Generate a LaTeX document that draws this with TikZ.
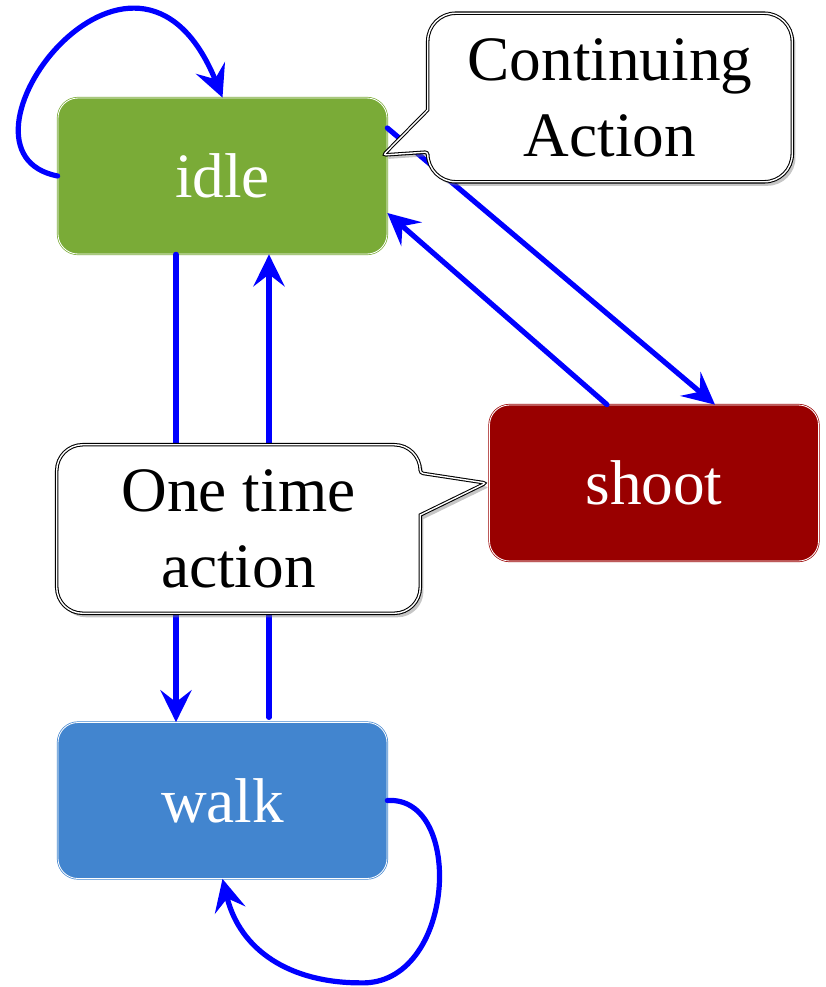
\documentclass[tikz,border=0pt]{standalone}
\usepackage{fontspec}
\setmainfont{Liberation Serif}
\usetikzlibrary{arrows.meta,shadows,calc}
\definecolor{idlegreen}{HTML}{7AAB37}
\definecolor{shootred}{HTML}{990000}
\definecolor{walkblue}{HTML}{4285CF}
\definecolor{linkblue}{HTML}{0000FF}
\tikzset{
	state/.style={rectangle,rounded corners=0.5cm,minimum width=8.225cm,minimum height=3.9cm,
		double=white,double distance=0.6pt,line width=0.5pt,text=white,
		font=\fontsize{45}{54}\selectfont},
	notebox/.style={rectangle,minimum width=9.1cm,minimum height=4.2cm,inner sep=0pt},
	notetext/.style={align=center,inner sep=0pt,font=\fontsize{45}{54}\selectfont},
	bubble/.style={draw=black,double=white,double distance=1pt,line width=0.75pt,
		fill=white,line join=miter,
		drop shadow={shadow xshift=0.08cm,shadow yshift=-0.1cm,opacity=0.45}}
}
\begin{document}
\begin{tikzpicture}[
	>={Stealth[length=0.8cm,width=0.78cm,inset=0.3cm]},
	line cap=round,
	line join=round
	]
	\useasboundingbox (0,0) rectangle (20.65,-24.675);
	\node[state,draw=idlegreen,fill=idlegreen] (idle) at (5.5625,-4.4) {idle};
	\node[state,draw=shootred,fill=shootred] (shoot) at (16.35,-12.075) {shoot};
	\node[state,draw=walkblue,fill=walkblue] (walk) at (5.5625,-20.0125) {walk};
	\begin{scope}[->,linkblue,line width=3.7pt]
		\draw (idle.west) .. controls +(-3.1,0.6) and +(-2.2,5.4) .. (idle.north);
		\draw ([xshift=-1.1625cm]idle.south) -- ([xshift=-1.1625cm]walk.north);
		\draw ([xshift=1.1625cm,yshift=0.12cm]walk.north) -- ([xshift=1.1625cm]idle.south);
		\draw ([yshift=1.2cm]idle.east) -- ([xshift=1.525cm]shoot.north);
		\draw ([xshift=-1.175cm]shoot.north) -- ([yshift=-0.925cm]idle.east);
		\draw (walk.east) .. controls +(1.95,0.125) and +(2.375,-0.075) .. ($(walk.south)+(3.45,-2.6)$)
			.. controls +(-1.75,0) and +(0.44,-1.8) .. (walk.south);
	\end{scope}
	\node[notebox] (contnote) at (15.25,-2.4375) {};
	\draw[bubble] ([shift={(-0.1,0.525)}]idle.east) -- ([yshift=-0.3125cm]contnote.west)
		[rounded corners=0.7cm] -- (contnote.north west) -- (contnote.north east)
		-- (contnote.south east) -- (contnote.south west)
		[rounded corners=2pt] -- ([yshift=-1.3625cm]contnote.west) -- cycle;
	\node[notetext] (contlabel) at (contnote) {Continuing\\Action};
	\node[notebox,minimum width=9.075cm] (onenote) at (5.9625,-13.225) {};
	\draw[bubble] ([xshift=-0.08cm]shoot.west) -- ([yshift=0.35cm]onenote.east)
		[rounded corners=0.65cm] -- (onenote.south east) -- (onenote.south west)
		-- (onenote.north west) -- (onenote.north east)
		[rounded corners=2pt] -- ([yshift=1.4cm]onenote.east) -- cycle;
	\node[notetext] (onelabel) at (onenote) {One time\\action};
\end{tikzpicture}
\end{document}
